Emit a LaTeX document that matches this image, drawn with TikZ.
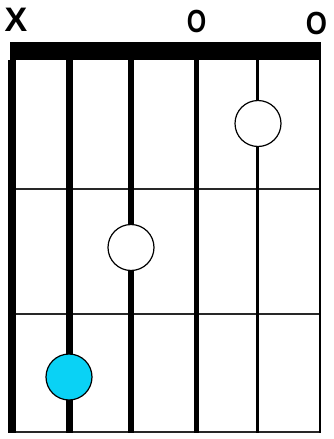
\documentclass[tikz,border=0pt]{standalone}
\usepackage{fontspec}
\setmainfont{Liberation Sans}
\definecolor{rootcyan}{RGB}{10,210,245}
\definecolor{fretgray}{RGB}{40,40,40}
\begin{document}
\begin{tikzpicture}[x=1pt,y=-1pt,
  stringline/.style={black,line cap=butt},
  fretline/.style={fretgray,line width=1.4pt},
  fingerdot/.style={circle,draw=black,line width=1.2pt,fill=white,minimum size=46pt,inner sep=0pt},
  rootdot/.style={fingerdot,fill=rootcyan},
  marklabel/.style={inner sep=0pt,text=black}]
\useasboundingbox (0,0) rectangle (334,439);
\clip (0,0) rectangle (334,439);
\fill[white] (0,0) rectangle (334,439);
% fret lines
\draw[fretline] (12,189) -- (320,189);
\draw[fretline] (12,314) -- (320,314);
\draw[fretline,line width=2pt] (8,432) -- (321,432);
% strings
\draw[stringline,line width=8pt] (12,60) -- (12,433);
\draw[stringline,line width=7pt] (69.5,60) -- (69.5,433);
\draw[stringline,line width=6pt] (130.5,60) -- (130.5,433);
\draw[stringline,line width=5pt] (196,60) -- (196,433);
\draw[stringline,line width=3.5pt] (257.5,60) -- (257.5,433);
\draw[stringline,line width=2.5pt] (319.8,60) -- (319.8,433);
% nut
\fill[black] (10,42) rectangle (321,60);
% finger dots
\node[fingerdot] (d2) at (258,123.5) {};
\node[fingerdot] (d4) at (131,247.5) {};
\node[rootdot] (d5) at (69,377) {};
% open / muted labels
\node[marklabel,font=\fontsize{34}{34}\selectfont\bfseries] (mx) at (16,20) {X};
\node[marklabel,font=\fontsize{32}{32}\selectfont\bfseries,xscale=0.78] (o3) at (196.5,21.5) {O};
\node[marklabel,font=\fontsize{32}{32}\selectfont\bfseries,xscale=0.85] (o1) at (316.5,23) {O};
% chord name (cut off at the bottom)
\node[marklabel,anchor=base west,font=\fontsize{46}{46}\selectfont,text=black!60] (title) at (78,473.5) {C Major};
\end{tikzpicture}
\end{document}
